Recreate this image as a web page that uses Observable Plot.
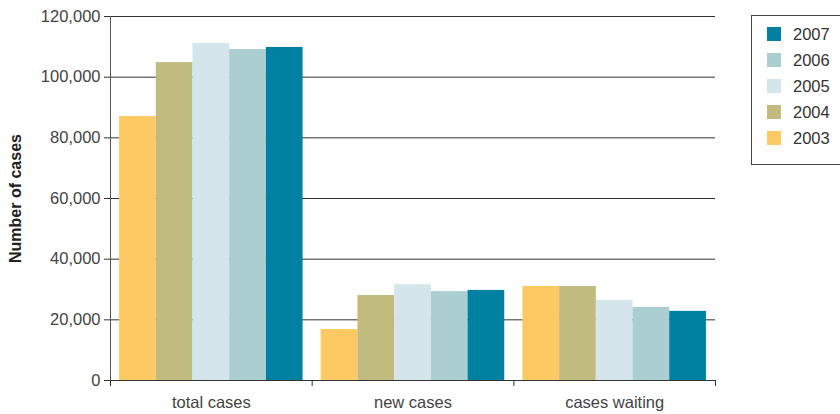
<!DOCTYPE html>
<html>
<head>
<meta charset="utf-8">
<script src="https://cdn.jsdelivr.net/npm/d3@7"></script>
<script src="https://cdn.jsdelivr.net/npm/@observablehq/plot@0.6"></script>
<style>
  html, body { margin: 0; padding: 0; background: #fff; overflow: hidden; }
  #wrap { position: relative; width: 840px; height: 414px; font-family: "Liberation Sans", Arial, Helvetica, sans-serif; }
  #wrap svg g[aria-label="y-axis label"] text { font-weight: bold; font-size: 16px; fill: #222; }
  #legend { position: absolute; left: 751px; top: 15px; width: 110px; height: 143px; border: 1px solid #444; box-sizing: content-box; padding-top: 5px; }
  .row { display: flex; align-items: center; height: 26px; font-size: 16.5px; color: #333; }
  .sw { width: 14px; height: 14px; margin-left: 15px; margin-right: 12px; }
</style>
</head>
<body>
<div id="wrap"></div>
<script>
const categories = ["total cases", "new cases", "cases waiting"];
const years = ["2003", "2004", "2005", "2006", "2007"];
const values2003 = [87000, 16800, 31000];
const values2004 = [104800, 28000, 31000];
const values2005 = [111100, 31600, 26400];
const values2006 = [109100, 29300, 24100];
const values2007 = [109800, 29700, 22800];
const colors = ["#fdc962", "#c2bb7e", "#d4e6ec", "#abcfd1", "#0081a1"];
const yTicks = [0, 20000, 40000, 60000, 80000, 100000, 120000];
const legendOrder = ["2007", "2006", "2005", "2004", "2003"];

const series = [values2003, values2004, values2005, values2006, values2007];
const groupPad = 0.045;
const barW = (1 - 2 * groupPad) / years.length;
const table = [];
categories.forEach((c, i) => {
  years.forEach((yr, j) => {
    table.push({category: c, year: yr, value: series[j][i], ci: i, yi: j});
  });
});

const font = '"Liberation Sans", Arial, Helvetica, sans-serif';

const chart = Plot.plot({
  width: 840,
  height: 414,
  marginLeft: 110,
  marginRight: 125,
  marginTop: 16,
  marginBottom: 34,
  style: {fontFamily: font, fontSize: "16.5px", color: "#444", background: "#fff"},
  x: {type: "linear", domain: [0, categories.length], axis: null},
  y: {domain: [0, 120000], axis: null},
  color: {domain: years, range: colors},
  marks: [
    Plot.gridY(yTicks, {stroke: "#333", strokeOpacity: 1, strokeWidth: 1}),
    Plot.rectY(table, {
      x1: d => d.ci + groupPad + d.yi * barW,
      x2: d => d.ci + groupPad + (d.yi + 1) * barW,
      y: "value",
      fill: "year"
    }),
    Plot.ruleY([0], {stroke: "#333"}),
    Plot.ruleX([0], {stroke: "#555"}),
    Plot.axisY({
      ticks: yTicks,
      tickFormat: d3.format(","),
      tickSize: 6,
      tickPadding: 4,
      stroke: "#333",
      label: "Number of cases",
      labelAnchor: "center",
      labelArrow: "none",
      labelOffset: 101
    }),
    Plot.axisX({
      ticks: d3.range(categories.length + 1),
      tickSize: 6,
      tickFormat: () => "",
      stroke: "#333",
      label: null
    }),
    Plot.axisX({
      ticks: categories.map((c, i) => i + 0.5),
      tickFormat: d => categories[Math.floor(d)],
      tickSize: 0,
      tickPadding: 16,
      label: null
    })
  ]
});

const wrap = document.getElementById("wrap");
wrap.appendChild(chart);

const legend = document.createElement("div");
legend.id = "legend";
legendOrder.forEach(yr => {
  const row = document.createElement("div");
  row.className = "row";
  const sw = document.createElement("div");
  sw.className = "sw";
  sw.style.background = colors[years.indexOf(yr)];
  const t = document.createElement("span");
  t.textContent = yr;
  row.appendChild(sw);
  row.appendChild(t);
  legend.appendChild(row);
});
wrap.appendChild(legend);
</script>
</body>
</html>
